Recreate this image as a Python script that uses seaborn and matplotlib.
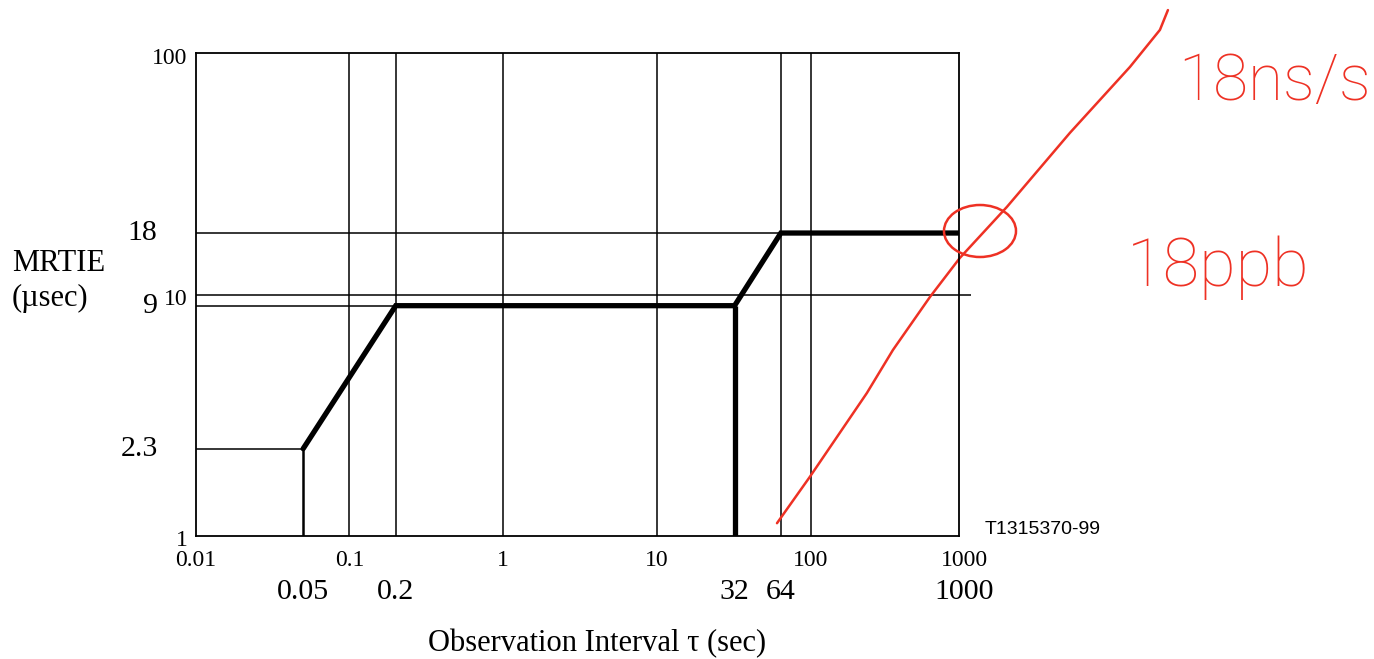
import numpy as np
import matplotlib
matplotlib.use("Agg")
import matplotlib.pyplot as plt
from matplotlib.patches import Ellipse
import seaborn as sns

# ==========================
# Data
# ==========================

# MRTIE mask (thick line)
mask_tau = [0.05, 0.2, 32, 64, 1000]
mask_mrtie = [2.3, 9, 9, 18, 18]
drop_tau = [32, 32]
drop_mrtie = [9, 1]

# decade ticks
decade_x = [0.01, 0.1, 1, 10, 100, 1000]
decade_x_labels = ["0.01", "0.1", "1", "10", "100", "1000"]
decade_y = [1, 10, 100]
decade_y_labels = ["1", "10", "100"]

# breakpoint labels
break_x = [0.05, 0.2, 32, 64, 1000]
break_x_labels = ["0.05", "0.2", "32", "64", "1000"]
break_y = [18, 9, 2.3]
break_y_labels = ["18", "9", "2.3"]

# full-height vertical guide lines
vlines_full = [0.1, 0.2, 1, 10, 64, 100]

# red hand-drawn annotation stroke (tau, MRTIE)
red_tau = [60.4, 98.9, 232, 343, 597, 935, 1891, 4856, 11940, 18700, 21080]
red_mrtie = [1.13, 1.76, 3.91, 5.90, 9.78, 14.2, 23.1, 46.8, 87.8, 125, 151]

# ==========================
# Plot
# ==========================

sns.set_style("white")
plt.rcParams["font.family"] = ["Liberation Serif", "DejaVu Serif"]
plt.rcParams["text.color"] = "black"

fig = plt.figure(figsize=(13.74, 6.59), dpi=100)
ax = fig.add_axes([0.14243, 0.18665, 0.5553, 0.7325])
ax.set_xscale("log")
ax.set_yscale("log")
ax.set_xlim(0.01, 918)
ax.set_ylim(1, 100)

thin = dict(color="black", lw=1.1, solid_capstyle="butt")

for xv in vlines_full:
    ax.axvline(xv, **thin)
ax.plot([0.01, 1100], [10, 10], clip_on=False, **thin)
ax.plot([0.01, 64], [18, 18], **thin)
ax.plot([0.01, 0.2], [9, 9], **thin)
ax.plot([0.01, 0.05], [2.3, 2.3], **thin)
ax.plot([0.05, 0.05], [1, 2.3], color="black", lw=1.8)

sns.lineplot(x=mask_tau, y=mask_mrtie, sort=False, estimator=None,
             color="black", lw=3.8, ax=ax, solid_joinstyle="miter")
sns.lineplot(x=drop_tau, y=drop_mrtie, sort=False, estimator=None,
             color="black", lw=3.8, ax=ax, solid_capstyle="butt")

for s in ax.spines.values():
    s.set_color("black")
    s.set_linewidth(1.3)

ax.minorticks_off()
ax.set_xticks([])
ax.set_yticks([])

xax = ax.get_xaxis_transform()
yax = ax.get_yaxis_transform()
for xv, lab in zip(decade_x, decade_x_labels):
    ax.text(xv, -0.05, lab, transform=xax, ha="center", va="center",
            fontsize=17)
for yv, lab in zip(decade_y, decade_y_labels):
    ax.text(-0.011, yv * 0.955, lab, transform=yax, ha="right",
            va="center", fontsize=17)
for xv, lab in zip(break_x, break_x_labels):
    ax.text(xv, -0.116, lab, transform=xax, ha="center", va="center",
            fontsize=21.5)
for yv, lab in zip(break_y, break_y_labels):
    ax.text(-0.05, yv, lab, transform=yax, ha="right", va="center",
            fontsize=21.5)

fig.text(12 / 1374, 1 - 281 / 659, "MRTIE\n(\u00b5sec)", ha="left",
         va="center", fontsize=22, linespacing=1.25)
fig.text(597 / 1374, 1 - 644 / 659, "Observation Interval \u03c4 (sec)",
         ha="center", va="center", fontsize=22)
fig.text(985 / 1374, 1 - 530 / 659, "T1315370-99", ha="left", va="center",
         fontsize=14, family=["Liberation Sans", "DejaVu Sans"])

# red annotation
red = "#ee3124"
ax.plot(red_tau, red_mrtie, color=red, lw=1.8, clip_on=False)
fig.add_artist(Ellipse((980 / 1374, 1 - 231 / 659), 72 / 1374, 52 / 659,
                       transform=fig.transFigure, fill=False,
                       edgecolor=red, lw=1.8))
fig.text(1275 / 1374, 1 - 82 / 659, "18ns/s", color=red, ha="center",
         va="center", fontsize=46, family=["Roboto", "DejaVu Sans"],
         fontweight="light")
fig.text(1218 / 1374, 1 - 268 / 659, "18ppb", color=red, ha="center",
         va="center", fontsize=48, family=["Roboto", "DejaVu Sans"],
         fontweight="light")

fig.savefig("out.png", dpi=100, facecolor="white")
